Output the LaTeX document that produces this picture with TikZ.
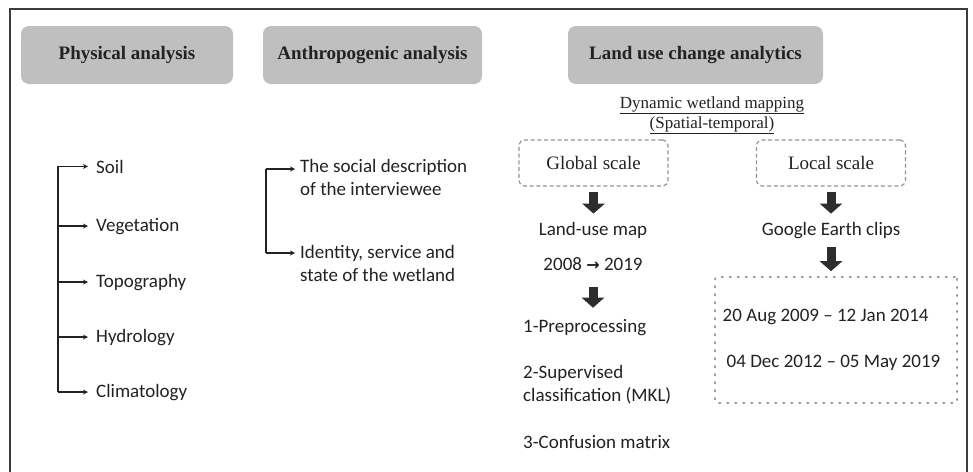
\documentclass[tikz,border=0pt]{standalone}
\usepackage{fontspec}
\setmainfont{Carlito}
\newfontfamily\tnr{Liberation Serif}
\newfontfamily\dvs{DejaVu Sans}
\usetikzlibrary{arrows.meta}
\definecolor{hdrgray}{HTML}{BFBFBF}
\definecolor{ink}{HTML}{222222}
\definecolor{bord}{HTML}{3C3C3C}
\begin{document}
\begin{tikzpicture}[x=1pt,y=-1pt,
 hdr/.style={fill=hdrgray, rounded corners=8pt, minimum width=#1, minimum height=58pt, inner sep=0pt,
   font=\tnr\bfseries\fontsize{19}{23}\selectfont, text=ink},
 body/.style={font=\fontsize{19}{23}\selectfont, text=ink, inner sep=0pt},
 scalebox/.style={draw=gray!85, dash pattern=on 4pt off 2.7pt, line width=1.2pt, rounded corners=6pt,
   minimum width=149pt, minimum height=46pt, font=\tnr\fontsize{19}{23}\selectfont, text=ink},
 datebox/.style={draw=gray!80, dash pattern=on 1.6pt off 6.4pt, line width=1.6pt, line cap=round,
   rounded corners=2pt, minimum width=242pt, minimum height=126pt, align=left,
   font=\fontsize{19}{24}\selectfont, text=ink, inner sep=0pt},
 branch/.style={draw=ink, line width=1.3pt, -{Stealth[length=5pt,width=5pt]}},
 trunk/.style={draw=ink, line width=1.3pt},
 bigarrow/.style={draw=ink!95, line width=9pt, -{Triangle[width=22pt,length=10pt]}}
]
\useasboundingbox (0,0) rectangle (973,471);
\begin{scope}
\clip (0,0) rectangle (973,471);
\draw[bord, line width=2.6pt] (10,490) -- (10,9) -- (967,9) -- (967,490);
\end{scope}

% headers
\node[hdr=212pt] (phys) at (127,55) {Physical analysis};
\node[hdr=219pt] (anth) at (372.5,55) {Anthropogenic analysis};
\node[hdr=255pt] (land) at (695.5,55) {Land use change analytics};

% physical analysis tree
\coordinate (ptx) at (58,0);
\node[body, anchor=base west] (soil) at (96,173) {Soil};
\node[body, anchor=base west] (veg) at (96,231) {Vegetation};
\node[body, anchor=base west] (topo) at (96,287) {Topography};
\node[body, anchor=base west] (hydro) at (96,342) {Hydrology};
\node[body, anchor=base west] (clim) at (96,397) {Climatology};
\draw[trunk] (ptx |- soil.west) -- (ptx |- clim.west);
\foreach \n in {soil,veg,topo,hydro,clim}
  \draw[branch, shorten >=8pt] (ptx |- \n.west) -- (\n.west);

% anthropogenic tree (base anchor = baseline of the last line)
\coordinate (atx) at (266,0);
\node[body, anchor=base west, align=left] (soc) at (300,195) {The social description\\of the interviewee};
\node[body, anchor=base west, align=left] (iden) at (300,281) {Identity, service and\\state of the wetland};
\coordinate (socb) at ([yshift=26pt]soc.base west);
\coordinate (idenb) at ([yshift=28pt]iden.base west);
\draw[trunk] (atx |- socb) -- (atx |- idenb);
\draw[branch, shorten >=5pt] (atx |- socb) -- (socb);
\draw[branch, shorten >=5pt] (atx |- idenb) -- (idenb);

% land use change analytics
\node[font=\tnr\fontsize{17}{20}\selectfont, text=ink, align=center, anchor=base, inner sep=0pt] (dyn) at (712,128)
  {\underline{Dynamic wetland mapping}\\\underline{(Spatial-temporal)}};
\node[scalebox] (gs) at (593.5,163) {Global scale};
\node[scalebox] (ls) at (831,163) {Local scale};

\node[body, anchor=base] (lum) at (593,235) {Land-use map};
\node[body, anchor=base] (yr) at (593,270) {2008 {\dvs\bfseries\fontsize{16}{18}\selectfont →} 2019};
\node[body, anchor=base west] (pre) at (523,332) {1-Preprocessing};
\node[body, anchor=base west, align=left] (sup) at (523,401) {2-Supervised\\classification (MKL)};
\node[body, anchor=base west] (conf) at (523,448) {3-Confusion matrix};

\node[body, anchor=base] (gec) at (831,235) {Google Earth clips};
\node[datebox] (dates) at (836,340) {20 Aug 2009 -- 12 Jan 2014\\[22pt]\hspace*{4pt}04 Dec 2012 -- 05 May 2019\hspace*{9pt}};

\draw[bigarrow, shorten <=5pt, shorten >=8pt] (gs.south) -- (gs.south |- lum.north);
\draw[bigarrow, shorten <=5pt, shorten >=8pt] (ls.south) -- (ls.south |- gec.north);
\draw[bigarrow, shorten <=17pt, shorten >=11pt] (yr.south) -- (yr.south |- pre.north);
\draw[bigarrow, shorten <=9pt, shorten >=5pt] (gec.south) -- (gec.south |- dates.north);
\end{tikzpicture}
\end{document}
